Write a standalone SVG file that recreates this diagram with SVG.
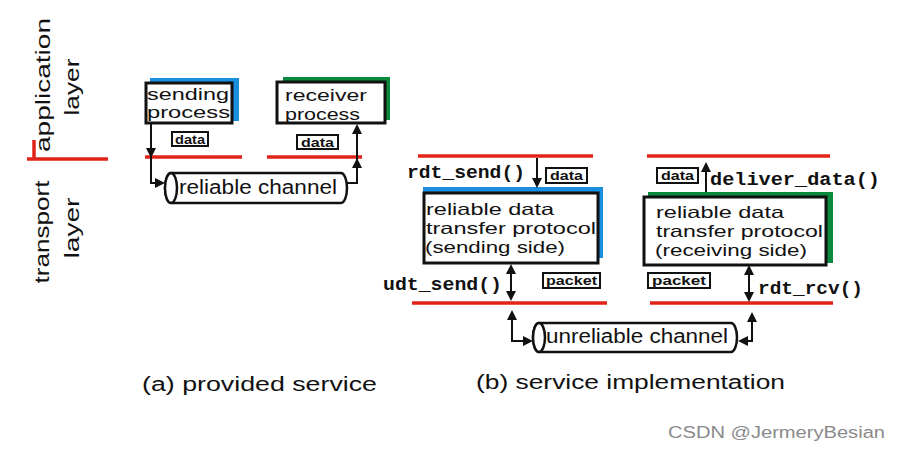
<svg xmlns="http://www.w3.org/2000/svg" width="898" height="452" viewBox="0 0 898 452">
<defs>
<style>
.t{font-family:"Liberation Sans",Arial,sans-serif;font-size:20px;fill:#111}
.b{font-family:"Liberation Sans",Arial,sans-serif;font-size:16.5px;fill:#111}
.m{font-family:"Liberation Mono","Courier New",monospace;font-size:19px;font-weight:bold;fill:#111}
.s{font-family:"Liberation Sans",Arial,sans-serif;font-size:13px;font-weight:bold;fill:#111}
.red{stroke:#e2231a;stroke-width:3.5;fill:none}
.box{fill:#fff;stroke:#111;stroke-width:3}
.lbl{fill:#fff;stroke:#111;stroke-width:2}
.ln{stroke:#111;stroke-width:2;fill:none}
.ah{fill:#111}
.cyl{fill:#fff;stroke:#111;stroke-width:2.5}
</style>
</defs>
<rect width="898" height="452" fill="#fff"/>

<g id="layers">
<text class="t" transform="translate(50,85) rotate(-90)" text-anchor="middle" textLength="134" lengthAdjust="spacingAndGlyphs">application</text>
<text class="t" transform="translate(79,87) rotate(-90)" text-anchor="middle" textLength="57" lengthAdjust="spacingAndGlyphs">layer</text>
<text class="t" transform="translate(49,232) rotate(-90)" text-anchor="middle" textLength="103" lengthAdjust="spacingAndGlyphs">transport</text>
<text class="t" transform="translate(79,228) rotate(-90)" text-anchor="middle" textLength="61" lengthAdjust="spacingAndGlyphs">layer</text>
<line class="red" x1="27" y1="159" x2="108" y2="159"/>
<line class="red" x1="34" y1="140" x2="34" y2="160" stroke-width="2.5"/>
</g>

<g id="red-lines">
<line class="red" x1="145" y1="157" x2="242" y2="157"/>
<line class="red" x1="267" y1="157" x2="362" y2="157"/>
<line class="red" x1="418" y1="156" x2="593" y2="156"/>
<line class="red" x1="647" y1="156" x2="830" y2="156"/>
<line class="red" x1="412" y1="303" x2="607" y2="303"/>
<line class="red" x1="650" y1="303" x2="833" y2="303"/>
</g>

<g id="sending-process">
<rect x="150" y="78" width="89" height="43" fill="#1a8fe0"/>
<rect class="box" x="146" y="83" width="86" height="40"/>
<text class="b" x="147" y="100" textLength="82" lengthAdjust="spacingAndGlyphs">sending</text>
<text class="b" x="147" y="118" textLength="83" lengthAdjust="spacingAndGlyphs">process</text>
</g>

<g id="receiver-process">
<rect x="283" y="77" width="107" height="43" fill="#0a8a3c"/>
<rect class="box" x="277" y="82" width="108" height="41"/>
<text class="b" x="285" y="101" textLength="82" lengthAdjust="spacingAndGlyphs">receiver</text>
<text class="b" x="285" y="120" textLength="75" lengthAdjust="spacingAndGlyphs">process</text>
</g>

<g id="data-a1">
<rect class="lbl" x="172" y="132" width="36" height="14"/>
<text class="s" x="175" y="144" textLength="30" lengthAdjust="spacingAndGlyphs">data</text>
</g>
<g id="data-a2">
<rect class="lbl" x="297" y="135" width="41" height="14"/>
<text class="s" x="301" y="147" textLength="33" lengthAdjust="spacingAndGlyphs">data</text>
</g>

<g id="reliable-channel">
<path class="cyl" d="M171,173 H341 A6,15 0 0 1 341,203 H171 A6,15 0 0 1 171,173 Z"/>
<ellipse class="cyl" cx="171" cy="188" rx="6" ry="15"/>
<text class="t" x="179" y="194" textLength="158" lengthAdjust="spacingAndGlyphs">reliable channel</text>
</g>

<g id="rdt-sender">
<rect x="423" y="187" width="180" height="71" fill="#1a8fe0"/>
<rect class="box" x="424" y="193" width="174" height="70"/>
<text class="b" x="426" y="215" textLength="128" lengthAdjust="spacingAndGlyphs">reliable data</text>
<text class="b" x="426" y="234" textLength="170" lengthAdjust="spacingAndGlyphs">transfer protocol</text>
<text class="b" x="425" y="253" textLength="140" lengthAdjust="spacingAndGlyphs">(sending side)</text>
</g>

<g id="rdt-receiver">
<rect x="648" y="192" width="185" height="71" fill="#0a8a3c"/>
<rect class="box" x="644" y="197" width="182" height="68"/>
<text class="b" x="656" y="218" textLength="128" lengthAdjust="spacingAndGlyphs">reliable data</text>
<text class="b" x="656" y="237" textLength="167" lengthAdjust="spacingAndGlyphs">transfer protocol</text>
<text class="b" x="655" y="256" textLength="152" lengthAdjust="spacingAndGlyphs">(receiving side)</text>
</g>

<g id="data-b1">
<rect class="lbl" x="546" y="168" width="41" height="15"/>
<text class="s" x="550" y="180" textLength="33" lengthAdjust="spacingAndGlyphs">data</text>
</g>
<g id="data-b2">
<rect class="lbl" x="657" y="168" width="41" height="15"/>
<text class="s" x="661" y="180" textLength="33" lengthAdjust="spacingAndGlyphs">data</text>
</g>
<g id="packet-b1">
<rect class="lbl" x="543" y="273" width="57" height="15"/>
<text class="s" x="546" y="285" textLength="51" lengthAdjust="spacingAndGlyphs">packet</text>
</g>
<g id="packet-b2">
<rect class="lbl" x="648" y="273" width="62" height="15"/>
<text class="s" x="652" y="285" textLength="54" lengthAdjust="spacingAndGlyphs">packet</text>
</g>

<g id="unreliable-channel">
<path class="cyl" d="M539,323 H731 A6,14.5 0 0 1 731,352 H539 A6,14.5 0 0 1 539,323 Z"/>
<ellipse class="cyl" cx="539" cy="337.5" rx="6" ry="14.5"/>
<text class="t" x="546" y="343" textLength="182" lengthAdjust="spacingAndGlyphs">unreliable channel</text>
</g>

<g id="func-labels">
<text class="m" x="407" y="178" textLength="118" lengthAdjust="spacingAndGlyphs">rdt_send()</text>
<text class="m" x="383" y="290" textLength="119" lengthAdjust="spacingAndGlyphs">udt_send()</text>
<text class="m" x="710" y="185" textLength="170" lengthAdjust="spacingAndGlyphs">deliver_data()</text>
<text class="m" x="758" y="294" textLength="105" lengthAdjust="spacingAndGlyphs">rdt_rcv()</text>
</g>

<g id="connectors">
<path class="ln" d="M151,123 V183 H158"/>
<polygon class="ah" points="146,148 156,148 151,158"/>
<polygon class="ah" points="155,178 155,188 165,183"/>
<path class="ln" d="M347,183 H357 V130"/>
<polygon class="ah" points="352,168 362,168 357,158"/>
<polygon class="ah" points="352,134 362,134 357,124"/>

<line class="ln" x1="537" y1="158" x2="537" y2="180"/>
<polygon class="ah" points="532,178 542,178 537,188"/>
<line class="ln" x1="511" y1="270" x2="511" y2="294"/>
<polygon class="ah" points="506,274 516,274 511,264"/>
<polygon class="ah" points="506,291 516,291 511,301"/>
<path class="ln" d="M512,316 V341 H526"/>
<polygon class="ah" points="507,320 517,320 512,310"/>
<polygon class="ah" points="523,336 523,346 533,341"/>

<line class="ln" x1="706" y1="192" x2="706" y2="168"/>
<polygon class="ah" points="701,172 711,172 706,162"/>
<line class="ln" x1="749" y1="272" x2="749" y2="296"/>
<polygon class="ah" points="744,275 754,275 749,265"/>
<polygon class="ah" points="744,292 754,292 749,302"/>
<path class="ln" d="M744,341 H752 V318"/>
<polygon class="ah" points="748,336 748,346 738,341"/>
<polygon class="ah" points="747,322 757,322 752,312"/>
</g>

<g id="captions">
<text class="t" x="142" y="391" font-size="21" textLength="235" lengthAdjust="spacingAndGlyphs">(a)  provided service</text>
<text class="t" x="476" y="389" font-size="21" textLength="309" lengthAdjust="spacingAndGlyphs">(b) service implementation</text>
<text x="668" y="438" font-family="Liberation Sans, Arial, sans-serif" font-size="16" fill="#8a8a8a" textLength="217" lengthAdjust="spacingAndGlyphs">CSDN @JermeryBesian</text>
</g>
</svg>
